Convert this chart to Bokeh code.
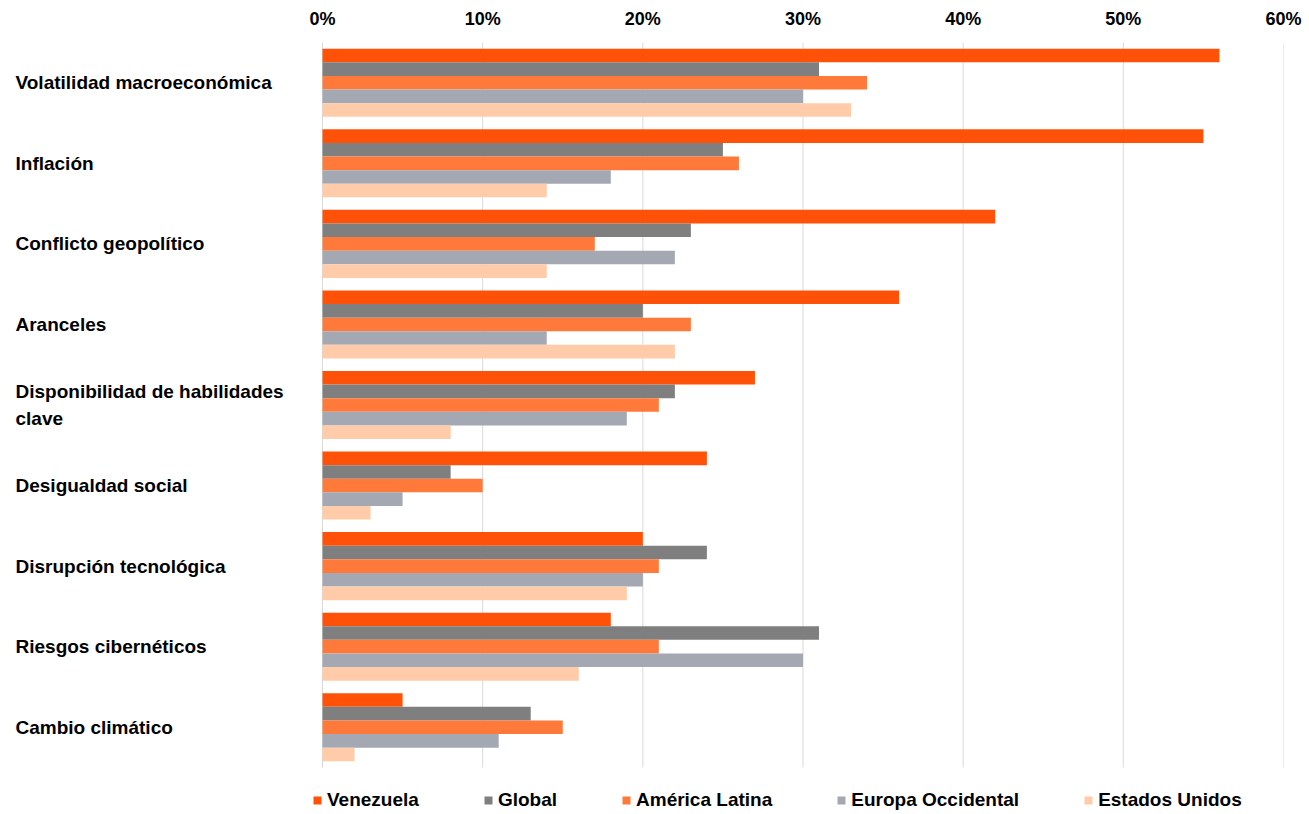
from bokeh.plotting import figure
from bokeh.models import Range1d, Legend, LegendItem, PrintfTickFormatter, ColumnDataSource, FixedTicker
from bokeh.core.properties import value
from bokeh.embed import file_html
from bokeh.resources import INLINE

categories = ["Volatilidad macroeconómica", "Inflación", "Conflicto geopolítico", "Aranceles",
              "Disponibilidad de habilidades\nclave", "Desigualdad social", "Disrupción tecnológica",
              "Riesgos cibernéticos", "Cambio climático"]
series = ["Venezuela", "Global", "América Latina", "Europa Occidental", "Estados Unidos"]
venezuela = [56, 55, 42, 36, 27, 24, 20, 18, 5]
global_ = [31, 25, 23, 20, 22, 8, 24, 31, 13]
america_latina = [34, 26, 17, 23, 21, 10, 21, 21, 15]
europa_occidental = [30, 18, 22, 14, 19, 5, 20, 30, 11]
estados_unidos = [33, 14, 14, 22, 8, 3, 19, 16, 2]
colors = ["#FF5208", "#7F7F7F", "#FF7A3A", "#A3A8B3", "#FFCBA8"]
ticks = [0, 10, 20, 30, 40, 50, 60]

FONT = "Liberation Sans"
W, H = 1309, 814
TOP, RIGHT = 42, 26
PLOT_LEFT_PX = 322            # where 0% sits
BAND_PX = 725 / 9             # height of one category band
LABEL_PAD_PX = 15

n = len(categories)
frame_w = W - RIGHT
frame_h = H - TOP
ppu_x = (frame_w - PLOT_LEFT_PX) / 60.0
x_start = -PLOT_LEFT_PX / ppu_x
y_end = float(n)
y_start = y_end - frame_h / BAND_PX

p = figure(width=W, height=H, x_range=Range1d(x_start, 60), y_range=Range1d(y_start, y_end),
           output_backend="svg", toolbar_location=None, x_axis_location="above",
           min_border_left=0, min_border_right=RIGHT, min_border_top=TOP, min_border_bottom=0)
p.outline_line_color = None
p.yaxis.visible = False
p.grid.visible = False
p.xaxis.ticker = FixedTicker(ticks=ticks)
p.xaxis.formatter = PrintfTickFormatter(format="%d%%")
p.xaxis.axis_line_color = None
p.xaxis.major_tick_line_color = None
p.xaxis.minor_tick_line_color = None
p.xaxis.major_label_standoff = 8
p.xaxis.major_label_text_font = FONT
p.xaxis.major_label_text_font_style = "bold"
p.xaxis.major_label_text_font_size = "18px"
p.xaxis.major_label_text_color = "#000000"

# vertical gridlines spanning the category area only
p.segment(x0=ticks, x1=ticks, y0=[0] * len(ticks), y1=[n] * len(ticks),
          line_color="#D9D9D9", line_width=1)

centers = [n - 0.5 - i for i in range(n)]
values = dict(Venezuela=venezuela, Global=global_, AL=america_latina, EO=europa_occidental, EU=estados_unidos)
cols = ["Venezuela", "Global", "AL", "EO", "EU"]
bh = 0.169
offsets = [2 * bh, bh, 0, -bh, -2 * bh]
items = []
for col, name, c, off in zip(cols, series, colors, offsets):
    ys = [yc + off for yc in centers]
    s = ColumnDataSource(dict(y=ys, v=values[col], cat=categories))
    r = p.hbar(y="y", right="v", left=0, height=bh, source=s, fill_color=c, line_color=None)
    items.append(LegendItem(label=name, renderers=[r]))

# category labels, left aligned near the page edge
lab_x = x_start + LABEL_PAD_PX / ppu_x
p.text(x=[lab_x] * n, y=centers, text=categories, text_align="left", text_baseline="middle",
       text_font=value(FONT), text_font_style="bold", text_font_size="19px", text_color="#000000",
       text_line_height=1.25)

legend = Legend(items=items, orientation="horizontal", location=(312, 3),
                label_text_font=FONT, label_text_font_style="bold", label_text_font_size="19px",
                label_text_color="#000000", glyph_width=10, glyph_height=10, label_standoff=5,
                spacing=64, padding=0, margin=0, border_line_color=None, background_fill_alpha=0)
p.add_layout(legend, "center")

open("out.html", "w").write(file_html(p, INLINE))
